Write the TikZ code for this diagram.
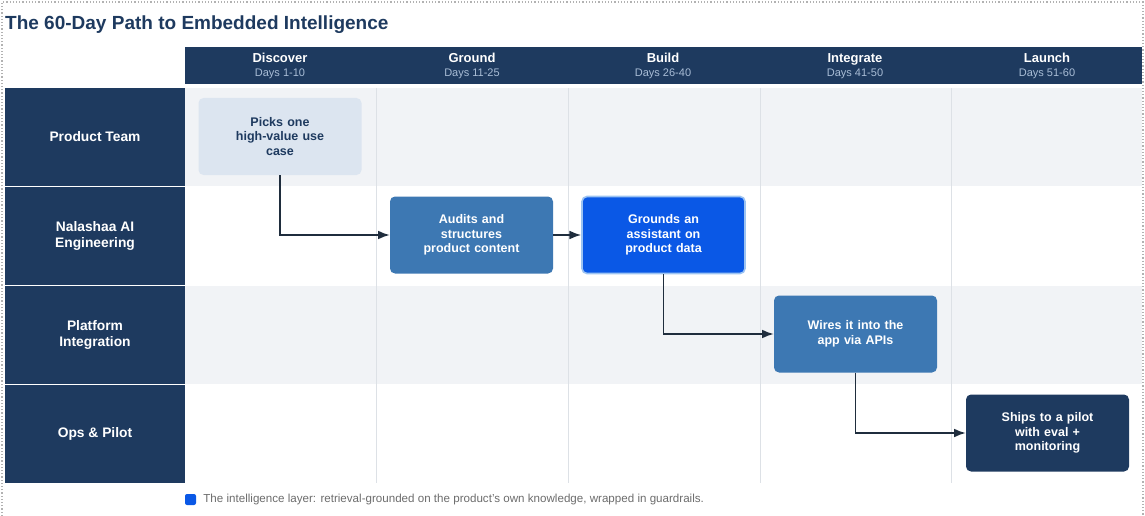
\documentclass[tikz,border=0pt]{standalone}
\usepackage{fontspec}
\setmainfont{Liberation Sans}
\usetikzlibrary{arrows.meta,positioning}

\definecolor{navy}{HTML}{1E3A5F}
\definecolor{steel}{HTML}{3D78B3}
\definecolor{bright}{HTML}{0A58E6}
\definecolor{glow}{HTML}{9CC3F2}
\definecolor{pale}{HTML}{DCE5F0}
\definecolor{band}{HTML}{F1F3F6}
\definecolor{dayblue}{HTML}{A9BDD6}
\definecolor{gridline}{HTML}{DDE1E6}
\definecolor{inkline}{HTML}{1F2D3D}

\begin{document}
\begin{tikzpicture}[x=1pt, y=-1pt, >=Latex,
  font=\bfseries\fontsize{12.5}{14.7}\selectfont,
  lane/.style={fill=navy, text=white, align=center, minimum width=180, minimum height=98, inner sep=0, font=\bfseries\fontsize{13.8}{16.5}\selectfont},
  phase/.style={text=white, anchor=base, inner sep=0, font=\bfseries\fontsize{13}{15}\selectfont},
  days/.style={text=dayblue, anchor=base, inner sep=0, font=\fontsize{11}{13}\selectfont},
  task/.style={rounded corners=5, align=center, minimum width=163, minimum height=77, text width=120},
  flow/.style={-{Latex[scale=1.15]}, draw=inkline, line width=1.6}]
\useasboundingbox (0,0) rectangle (1145,516);
\draw[dotted, gray!60, line width=1.2] (2,516) -- (2,2) -- (1143,2) -- (1143,516);

\node[anchor=base west, inner sep=0, text=navy, font=\bfseries\fontsize{19}{22}\selectfont] (title) at (5,30) {The 60-Day Path to Embedded Intelligence};

% lanes and bands
\fill[band] (185,88) rectangle (1142,186);
\fill[band] (185,286) rectangle (1142,384);
\foreach \x in {376,568,760,951}
  \draw[gridline, line width=0.8] (\x,88) -- (\x,483);

\node[lane] (prod) at (95,137) {Product Team};
\node[lane] (eng) at (95,236) {Nalashaa AI\\Engineering};
\node[lane] (plat) at (95,335) {Platform\\Integration};
\node[lane] (ops) at (95,434) {Ops \& Pilot};

% phases
\fill[navy] (185,47) rectangle (1142,84);
\foreach \x/\id/\title/\span in {280/discover/Discover/1-10, 472/ground/Ground/11-25,
    663/build/Build/26-40, 855/integrate/Integrate/41-50, 1047/launch/Launch/51-60} {
  \node[phase] (\id) at (\x,62.5) {\title};
  \node[days] (\id-days) at (\x,77) {Days \span};
}

% tasks
\node[task, fill=pale, text=navy] (picks) at (280,136.5) {Picks one\\high-value use\\case};
\node[task, fill=steel, text=white] (audits) at (471.5,235) {Audits and\\structures\\product content};
\node[task, fill=bright, text=white, draw=glow, line width=1.6] (grounds) at (663.5,235) {Grounds an\\assistant on\\product data};
\node[task, fill=steel, text=white] (wires) at (855.5,334) {Wires it into the\\app via APIs};
\node[task, fill=navy, text=white] (ships) at (1047.5,433) {Ships to a pilot\\with eval +\\monitoring};

\draw[flow] (picks.south) |- (audits.west);
\draw[flow] (audits) -- (grounds);
\draw[flow] (grounds.south) |- (wires.west);
\draw[flow] (wires.south) |- (ships.west);

% legend
\node[fill=bright, rounded corners=2, minimum size=11, inner sep=0] (key) at (190.5,499.5) {};
\node[right=7pt of key, inner sep=0, text=gray!85!black, font=\mdseries\fontsize{11.6}{13}\selectfont] (keytext) {The intelligence layer: retrieval-grounded on the product's own knowledge, wrapped in guardrails.};
\end{tikzpicture}
\end{document}
